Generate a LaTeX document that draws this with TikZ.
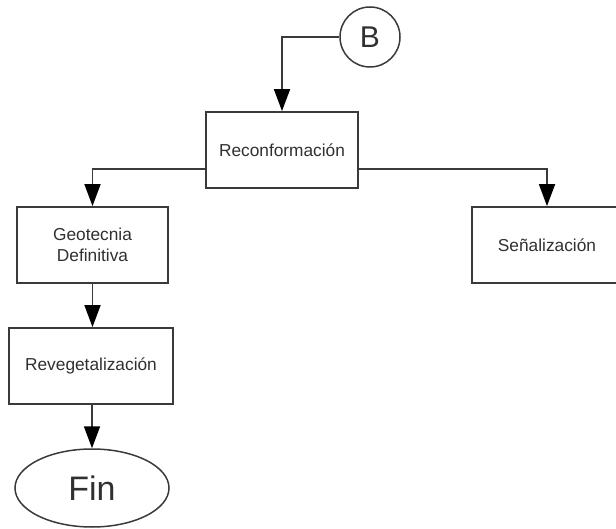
\documentclass[tikz,border=0pt]{standalone}
\usepackage{fontspec}
\setmainfont{Liberation Sans}
\usetikzlibrary{arrows.meta,shapes.geometric}
\definecolor{edgegray}{HTML}{3A3A3A}
\definecolor{textgray}{HTML}{303030}
\tikzset{
  procbox/.style={draw=edgegray, line width=1.8pt, rectangle, inner sep=0pt,
    text=textgray, font=\fontsize{17.3}{21}\selectfont, align=center},
  connector/.style={draw=edgegray, line width=1.8pt},
  arr/.style={connector, -{Triangle[width=16pt,length=22pt,color=black]}},
  endcap/.style={draw=edgegray, line width=1.5pt, ellipse, inner sep=0pt,
    text=textgray, font=\fontsize{34}{34}\selectfont},
  joincirc/.style={draw=edgegray, line width=1.5pt, circle, inner sep=0pt,
    text=textgray, font=\fontsize{30}{30}\selectfont}
}
\begin{document}
\begin{tikzpicture}[x=1pt, y=-1pt]
  \useasboundingbox (0,0) rectangle (616,529);

  % Nodes of the flow
  \node[joincirc, minimum size=60pt] (B) at (370,37) {B};
  \node[procbox, minimum width=152pt, minimum height=76pt] (reconf) at (282,150) {Reconformación};
  \node[procbox, minimum width=151pt, minimum height=76pt] (geo) at (92.5,245) {Geotecnia\\Definitiva};
  \node[procbox, minimum width=150pt, minimum height=76pt] (senal) at (547,245) {Señalización};
  \node[procbox, minimum width=164pt, minimum height=76pt] (reveg) at (91,366) {Revegetalización};
  \node[endcap, minimum width=154pt, minimum height=78pt] (fin) at (92,488) {Fin};

  % Connectors
  \draw[arr] (B.west) -| (reconf.north);
  \draw[arr] ([yshift=-19pt]reconf.west) -| (geo.north);
  \draw[arr] ([yshift=-19pt]reconf.east) -| (senal.north);
  \draw[arr] (geo.south) -- (geo.south |- reveg.north);
  \draw[arr] (reveg.south -| fin.north) -- (fin.north);
\end{tikzpicture}
\end{document}
